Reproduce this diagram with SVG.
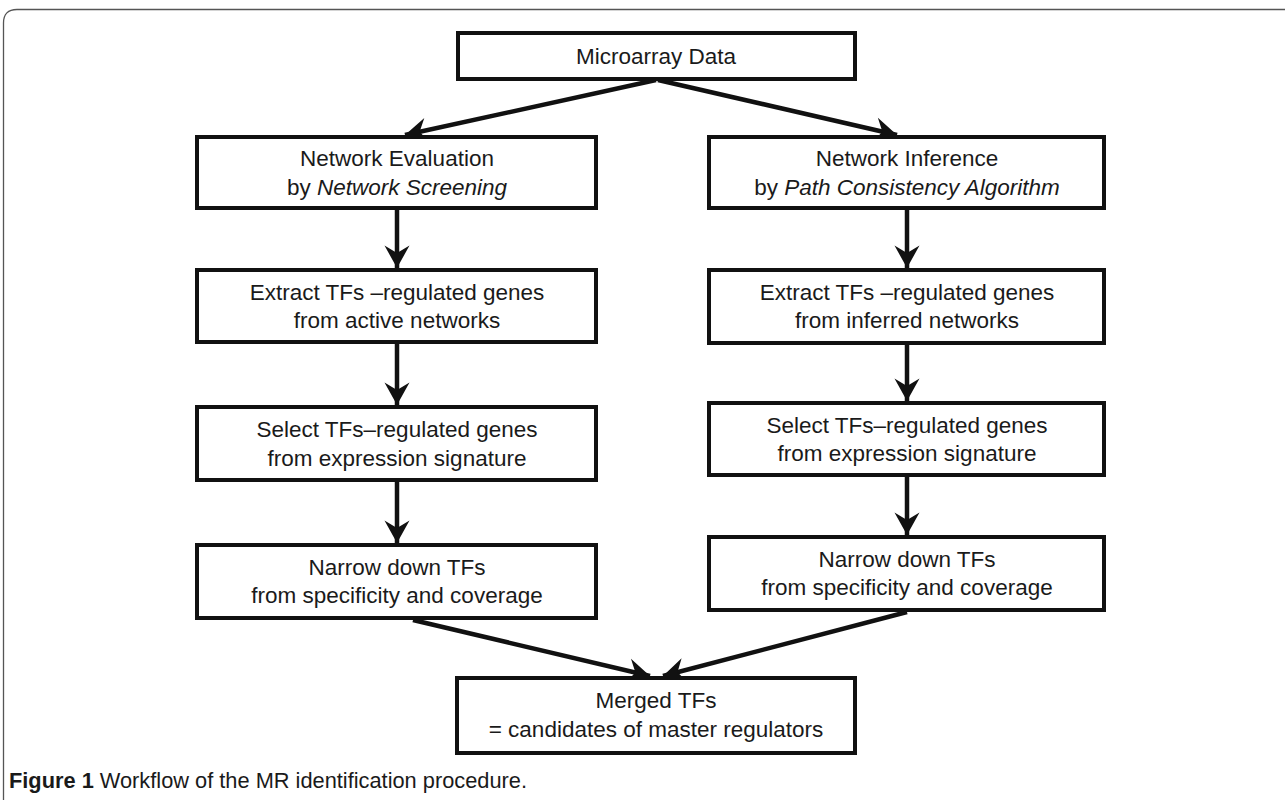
<svg xmlns="http://www.w3.org/2000/svg" width="1285" height="800" viewBox="0 0 1285 800">
<style>
.box{fill:#fff;stroke:#111;stroke-width:4}
.t{font-family:"Liberation Sans",Arial,sans-serif;font-size:22.5px;fill:#1a1a1a;text-anchor:middle}
.i{font-style:italic}
.c{stroke:#111;stroke-width:4.5;fill:none;marker-end:url(#ah)}
.cap{font-family:"Liberation Sans",Arial,sans-serif;font-size:21.5px;fill:#1a1a1a}
</style>
<defs>
<marker id="ah" markerUnits="userSpaceOnUse" markerWidth="30" markerHeight="30" viewBox="-20 -12 22 24" refX="0" refY="0" orient="auto">
<path d="M0,0 L-18,-10 L-12,0 L-18,10 Z" fill="#111"/>
</marker>
</defs>
<rect width="1285" height="800" fill="#fff"/>
<path id="frame" d="M3.5,800 L3.5,23 Q3.5,9.5 17,9.5 L1285,9.5" fill="none" stroke="#555" stroke-width="1.3"/>
<g id="connectors">
<line class="c" x1="656" y1="80" x2="405" y2="135"/>
<line class="c" x1="658" y1="80" x2="897" y2="135"/>
<line class="c" x1="397" y1="210" x2="397" y2="268"/>
<line class="c" x1="397" y1="344" x2="397" y2="405"/>
<line class="c" x1="397" y1="482" x2="397" y2="543"/>
<line class="c" x1="907" y1="210" x2="907" y2="268"/>
<line class="c" x1="907" y1="345" x2="907" y2="401"/>
<line class="c" x1="907" y1="477" x2="907" y2="535"/>
<line class="c" x1="413" y1="620" x2="650" y2="676"/>
<line class="c" x1="907" y1="612" x2="663" y2="676"/>
</g>
<g id="n-microarray">
<rect class="box" x="458" y="33" width="397" height="46"/>
<text class="t" x="656" y="64">Microarray Data</text>
</g>
<g id="n-eval">
<rect class="box" x="197" y="137" width="399" height="71"/>
<text class="t" x="397" y="166">Network Evaluation</text>
<text class="t" x="397" y="195">by <tspan class="i">Network Screening</tspan></text>
</g>
<g id="n-infer">
<rect class="box" x="709" y="137" width="395" height="71"/>
<text class="t" x="907" y="166">Network Inference</text>
<text class="t" x="907" y="195">by <tspan class="i">Path Consistency Algorithm</tspan></text>
</g>
<g id="n-extract-l">
<rect class="box" x="197" y="270" width="399" height="72"/>
<text class="t" x="397" y="300">Extract TFs –regulated genes</text>
<text class="t" x="397" y="328">from active networks</text>
</g>
<g id="n-extract-r">
<rect class="box" x="709" y="270" width="395" height="73"/>
<text class="t" x="907" y="300">Extract TFs –regulated genes</text>
<text class="t" x="907" y="328">from inferred networks</text>
</g>
<g id="n-select-l">
<rect class="box" x="197" y="407" width="399" height="73"/>
<text class="t" x="397" y="437">Select TFs–regulated genes</text>
<text class="t" x="397" y="466">from expression signature</text>
</g>
<g id="n-select-r">
<rect class="box" x="709" y="403" width="395" height="72"/>
<text class="t" x="907" y="433">Select TFs–regulated genes</text>
<text class="t" x="907" y="461">from expression signature</text>
</g>
<g id="n-narrow-l">
<rect class="box" x="197" y="545" width="399" height="73"/>
<text class="t" x="397" y="575">Narrow down TFs</text>
<text class="t" x="397" y="603">from specificity and coverage</text>
</g>
<g id="n-narrow-r">
<rect class="box" x="709" y="537" width="395" height="73"/>
<text class="t" x="907" y="567">Narrow down TFs</text>
<text class="t" x="907" y="595">from specificity and coverage</text>
</g>
<g id="n-merged">
<rect class="box" x="457" y="678" width="398" height="75"/>
<text class="t" x="656" y="708">Merged TFs</text>
<text class="t" x="656" y="737">= candidates of master regulators</text>
</g>
<text id="caption" class="cap" x="9" y="788" textLength="518" lengthAdjust="spacingAndGlyphs"><tspan font-weight="bold">Figure 1</tspan> Workflow of the MR identification procedure.</text>
</svg>
